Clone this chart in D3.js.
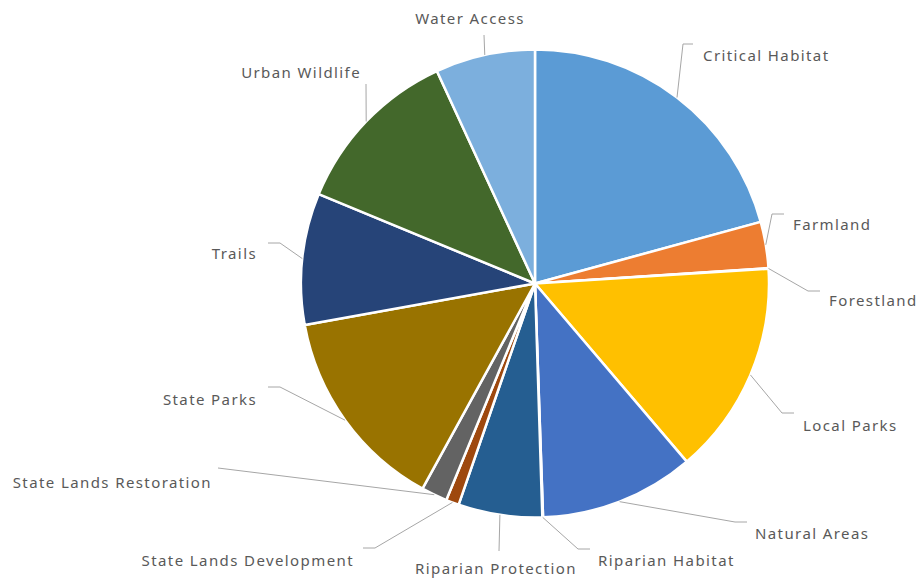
<!DOCTYPE html>
<html>
<head>
<meta charset="utf-8">
<script src="https://cdn.jsdelivr.net/npm/d3@7"></script>
<style>
  html, body { margin: 0; padding: 0; background: #fff; }
  svg { display: block; }
  .lbl { font-family: "Noto Sans", "Open Sans", sans-serif; font-size: 15px; letter-spacing: 1.4px; fill: #595959; }
</style>
</head>
<body>
<svg id="chart" width="922" height="578"></svg>
<script>
// Program categories and their share of funding (%)
const categories = [
  "Critical Habitat", "Farmland", "Forestland", "Local Parks", "Natural Areas",
  "Riparian Habitat", "Riparian Protection", "State Lands Development",
  "State Lands Restoration", "State Parks", "Trails", "Urban Wildlife", "Water Access"
];
const values = [20.8, 3.2, 0.05, 14.8, 10.7, 0.05, 5.8, 0.9, 1.8, 14.2, 9.1, 11.9, 6.9];
const colors = [
  "#5B9BD5", "#ED7D31", "#A5A5A5", "#FFC000", "#4472C4",
  "#70AD47", "#255E91", "#9E480E", "#636363", "#997300", "#264478", "#43682B", "#7CAFDD"
];

// Label placement: text anchor point, leader elbow and stub end
const labelLayout = {
  "Critical Habitat":        { x: 703, y: 55,  anchor: "start",  elbow: [683, 44], end: [693, 44] },
  "Farmland":                { x: 793, y: 224, anchor: "start",  elbow: [772, 214], end: [784, 214] },
  "Forestland":              { x: 829, y: 300, anchor: "start",  elbow: [808, 291], end: [820, 291] },
  "Local Parks":             { x: 803, y: 425, anchor: "start",  elbow: [782, 413], end: [794, 413] },
  "Natural Areas":           { x: 755, y: 533, anchor: "start",  elbow: [735, 522], end: [747, 522] },
  "Riparian Habitat":        { x: 598, y: 560, anchor: "start",  elbow: [578, 549], end: [590, 549] },
  "Riparian Protection":     { x: 496, y: 568, anchor: "middle", elbow: [499, 551], end: [499, 551] },
  "State Lands Development": { x: 354, y: 560, anchor: "end",    elbow: [375, 548], end: [363, 548] },
  "State Lands Restoration": { x: 212, y: 482, anchor: "end",    elbow: [218, 468], end: [218, 468] },
  "State Parks":             { x: 257, y: 399, anchor: "end",    elbow: [280, 387], end: [268, 387] },
  "Trails":                  { x: 257, y: 253, anchor: "end",    elbow: [280, 243], end: [268, 243] },
  "Urban Wildlife":          { x: 361, y: 72,  anchor: "end",    elbow: [366, 84],  end: [366, 84] },
  "Water Access":            { x: 470, y: 18,  anchor: "middle", elbow: [484, 35],  end: [484, 35] }
};

const cx = 535, cy = 283.5, radius = 234;
const svg = d3.select("#chart");
const g = svg.append("g").attr("transform", `translate(${cx},${cy})`);

const data = categories.map((c, i) => ({ name: c, value: values[i], color: colors[i] }));
const pie = d3.pie().value(d => d.value).sort(null).startAngle(0).endAngle(2 * Math.PI);
const arcs = pie(data);
const arc = d3.arc().innerRadius(0).outerRadius(radius);

g.selectAll("path.slice")
  .data(arcs)
  .join("path")
  .attr("class", "slice")
  .attr("d", arc)
  .attr("fill", d => d.data.color)
  .attr("stroke", "#fff")
  .attr("stroke-width", 2.5)
  .attr("stroke-linejoin", "round");

// Leader lines from the slice edge to each label
const leaders = svg.append("g");
arcs.forEach(d => {
  const L = labelLayout[d.data.name];
  const mid = (d.startAngle + d.endAngle) / 2;
  const sx = cx + radius * Math.sin(mid);
  const sy = cy - radius * Math.cos(mid);
  const pts = [[sx, sy], L.elbow, L.end];
  leaders.append("path")
    .attr("d", d3.line()(pts))
    .attr("fill", "none")
    .attr("stroke", "#A6A6A6")
    .attr("stroke-width", 1);
});

svg.append("g").selectAll("text")
  .data(arcs)
  .join("text")
  .attr("class", "lbl")
  .attr("x", d => labelLayout[d.data.name].x)
  .attr("y", d => labelLayout[d.data.name].y)
  .attr("text-anchor", d => labelLayout[d.data.name].anchor)
  .attr("dominant-baseline", "central")
  .text(d => d.data.name);
</script>
</body>
</html>
